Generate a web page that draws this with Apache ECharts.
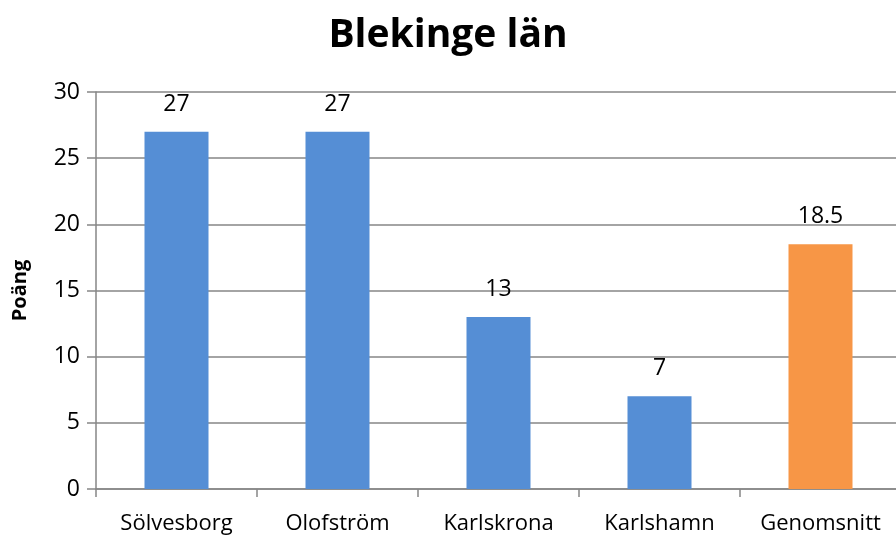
<!DOCTYPE html>
<html lang="sv">
<head>
    <meta charset="UTF-8">
    <title>Blekinge län</title>
    <script src="https://cdn.jsdelivr.net/npm/echarts@6/dist/echarts.min.js"></script>
</head>
<body style="margin:0">
<div id="main" style="width: 896px;height:537px;"></div>
<script>
    var kommuner = ['Sölvesborg', 'Olofström', 'Karlskrona', 'Karlshamn', 'Genomsnitt'];
    var poang = [27, 27, 13, 7, 18.5];
    var farger = ['#558ED5', '#558ED5', '#558ED5', '#558ED5', '#F79646'];

    var myChart = echarts.init(document.getElementById('main'));
    var option = {
        animation: false,
        textStyle: { fontFamily: 'Open Sans' },
        title: {
            text: 'Blekinge län',
            left: 'center',
            top: 11,
            textStyle: { fontSize: 39, fontWeight: 'bold', color: '#000', fontFamily: 'Open Sans' }
        },
        grid: { left: 96, right: -5, top: 92, bottom: 48, outerBoundsMode: 'none' },
        xAxis: {
            type: 'category',
            data: kommuner,
            axisLine: { lineStyle: { color: '#868686', width: 1.5 } },
            axisTick: { show: true, interval: 0, length: 8, lineStyle: { color: '#868686', width: 1.5 } },
            axisLabel: { interval: 0, color: '#000', fontSize: 22, margin: 24 }
        },
        yAxis: {
            type: 'value',
            min: 0,
            max: 30,
            interval: 5,
            name: 'Poäng',
            nameLocation: 'middle',
            nameRotate: 90,
            nameGap: 66,
            nameTextStyle: { fontSize: 20, fontWeight: 'bold', color: '#000' },
            axisLine: { show: true, lineStyle: { color: '#868686', width: 1.5 } },
            axisTick: { show: true, length: 9, lineStyle: { color: '#868686', width: 1.5 } },
            axisLabel: { color: '#000', fontSize: 23, margin: 16 },
            splitLine: { lineStyle: { color: '#868686', width: 1.5 } }
        },
        series: [
            {
                type: 'bar',
                barWidth: 64,
                data: poang.map(function (v, i) {
                    return { value: v, itemStyle: { color: farger[i] } };
                }),
                label: {
                    show: true,
                    position: 'top',
                    distance: 16,
                    color: '#000',
                    fontSize: 23
                }
            }
        ]
    };
    myChart.setOption(option);
</script>
</body>
</html>
